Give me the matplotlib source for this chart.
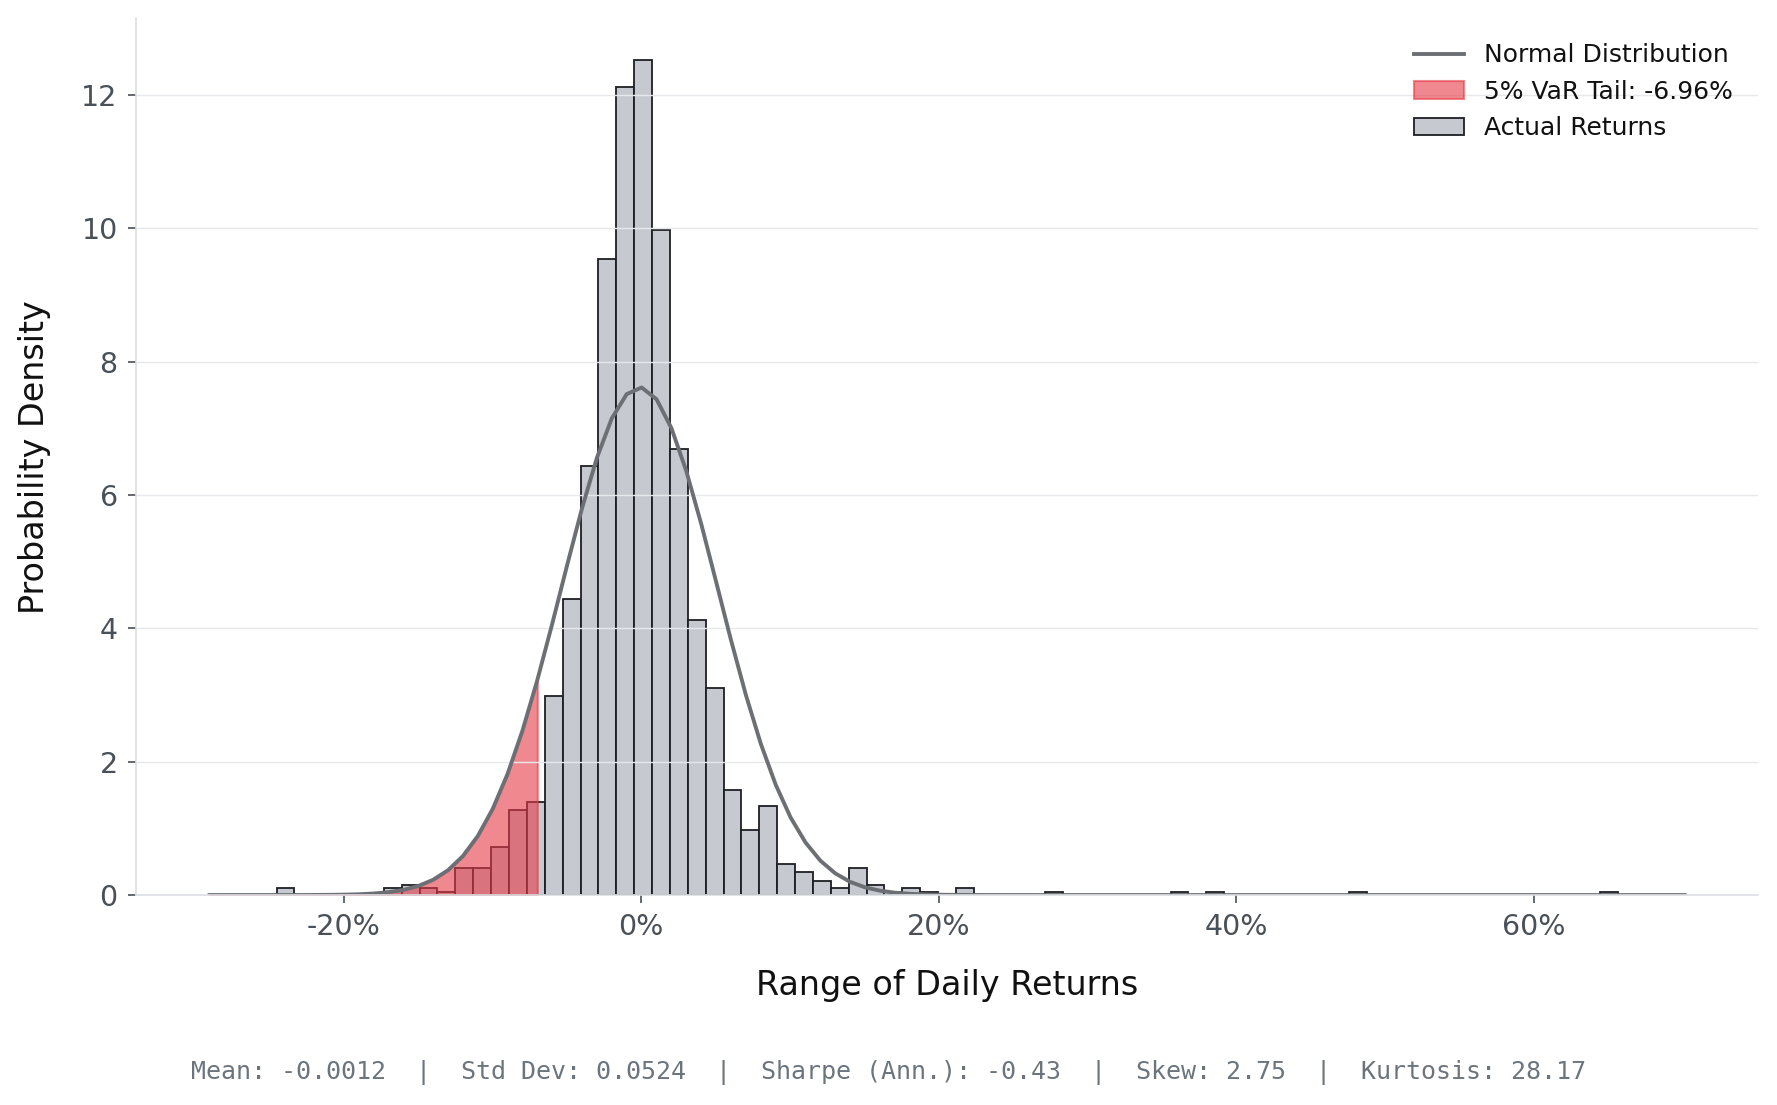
import numpy as np
import matplotlib
matplotlib.use('Agg')
from matplotlib import pyplot as plt
from matplotlib.ticker import FuncFormatter

# daily return stats
mean_ret = -0.0012
std_ret = 0.0524
sharpe_ann = -0.43
skew = 2.75
kurt = 28.17
var_5 = -0.0696

# histogram (density), 75 bins over the data range
ret_min = -0.2452
ret_max = 0.6563
n_bins = 75
density = [0.10, 0, 0, 0, 0, 0, 0.10, 0.15, 0.10, 0.05,
           0.40, 0.40, 0.72, 1.27, 1.39, 2.98, 4.44, 6.44, 9.54, 12.11,
           12.52, 9.97, 6.69, 4.13, 3.10, 1.57, 0.97, 1.33, 0.47, 0.35,
           0.21, 0.10, 0.40, 0.15, 0.05, 0.10, 0.05, 0, 0.10, 0,
           0, 0, 0, 0.05, 0, 0, 0, 0, 0, 0,
           0.05, 0, 0.05, 0, 0, 0, 0, 0, 0, 0,
           0.05, 0, 0, 0, 0, 0, 0, 0, 0, 0,
           0, 0, 0, 0, 0.05]

x_ticks = [-0.2, 0.0, 0.2, 0.4, 0.6]
y_ticks = [0, 2, 4, 6, 8, 10, 12]

edges = np.linspace(ret_min, ret_max, n_bins + 1)

fig = plt.figure(figsize=(17.77, 11.05), dpi=100)
ax = fig.add_axes([0.0764, 0.190, 0.9131, 0.7934])

n, b, hist_patches = ax.hist(edges[:-1], bins=edges, weights=density,
                             color='#c6cad0', edgecolor='#1c1f23', linewidth=1.3,
                             label='Actual Returns')

pad = 0.05 * (ret_max - ret_min)
xs = np.linspace(ret_min - pad, ret_max + pad, 100)
pdf = np.exp(-0.5 * ((xs - mean_ret) / std_ret) ** 2) / (std_ret * np.sqrt(2 * np.pi))
line, = ax.plot(xs, pdf, color='#6c7075', linewidth=2.8, label='Normal Distribution')

tail = xs <= var_5
var_label = '5%% VaR Tail: %.2f%%' % (var_5 * 100)
fill = ax.fill_between(xs[tail], 0, pdf[tail], color='#e63946', alpha=0.6,
                       linewidth=1.5, label=var_label)

span = xs[-1] - xs[0]
ax.set_xlim(xs[0] - 0.05 * span, xs[-1] + 0.05 * span)
ax.set_ylim(0, max(density) * 1.05)

ax.set_xticks(x_ticks)
ax.set_yticks(y_ticks)
ax.xaxis.set_major_formatter(FuncFormatter(lambda v, p: '%d%%' % round(v * 100)))
ax.tick_params(axis='both', labelsize=20.5, colors='#495057', length=6, width=1.2, pad=7)

ax.grid(axis='y', color='#e6e8eb', linewidth=1.0)
ax.grid(axis='x', visible=False)
for s in ['top', 'right']:
    ax.spines[s].set_visible(False)
for s in ['left', 'bottom']:
    ax.spines[s].set_color('#dcdfe3')
    ax.spines[s].set_linewidth(1.2)

ax.set_xlabel('Range of Daily Returns', fontsize=24, color='#111111')
ax.set_ylabel('Probability Density', fontsize=24, color='#111111')
ax.xaxis.set_label_coords(0.5, -0.1035)
ax.yaxis.set_label_coords(-0.0627, 0.5)
ax.xaxis.label.set_va('center')
ax.yaxis.label.set_va('center')

leg = ax.legend(handles=[line, fill, hist_patches[0]],
                labels=['Normal Distribution', var_label, 'Actual Returns'],
                loc='upper right', frameon=False, fontsize=18, labelspacing=0.5,
                borderaxespad=0.6)
for t in leg.get_texts():
    t.set_color('#111111')

stats = 'Mean: %.4f  |  Std Dev: %.4f  |  Sharpe (Ann.): %.2f  |  Skew: %.2f  |  Kurtosis: %.2f' % (
    mean_ret, std_ret, sharpe_ann, skew, kurt)
fig.text(0.5, 0.029, stats, ha='center', va='center', family='DejaVu Sans Mono',
         fontsize=18, color='#6c757d')

fig.savefig('out.png', dpi=100)
